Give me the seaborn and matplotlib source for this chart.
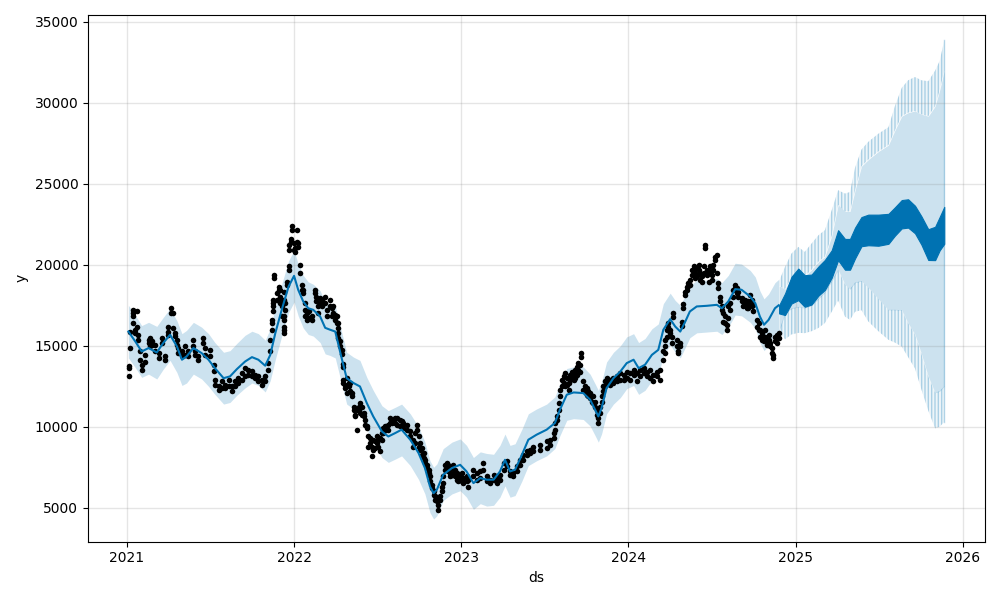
import numpy as np
import pandas as pd
import matplotlib
matplotlib.use("Agg")
import matplotlib.pyplot as plt
import seaborn as sns

BASE = pd.Timestamp("2021-01-01")

# ---------------- observed values (days since 2021-01-01) ----------------
obs_day = [4, 7, 14, 18, 21, 25, 28, 32, 39, 47,
           50, 54, 61, 69, 76, 83, 90, 96, 101, 105,
           109, 112, 120, 127, 134, 145, 149, 156, 167, 171,
           181, 189, 192, 200, 207, 214, 222, 229, 236, 243,
           251, 258, 265, 273, 280, 287, 294, 302, 309, 313,
           316, 320, 321, 327, 331, 334, 338, 342, 345, 349,
           353, 355, 358, 360, 364, 367, 371, 374, 377, 382,
           385, 389, 393, 398, 404, 411, 414, 418, 422, 425,
           433, 436, 444, 447, 451, 455, 458, 462, 466, 469,
           471, 473, 476, 480, 484, 487, 491, 495, 498, 502,
           506, 509, 513, 517, 520, 524, 527, 531, 535, 538,
           542, 546, 549, 553, 557, 560, 564, 571, 575, 578,
           586, 589, 597, 600, 604, 611, 619, 626, 629, 633,
           637, 640, 644, 648, 651, 655, 659, 662, 666, 670,
           673, 677, 680, 684, 688, 691, 695, 699, 702, 706,
           710, 713, 717, 721, 724, 728, 731, 735, 742, 746,
           757, 764, 771, 779, 786, 793, 801, 808, 815, 823,
           830, 837, 844, 852, 859, 866, 874, 881, 888, 903,
           917, 925, 932, 935, 939, 943, 946, 950, 954, 957,
           961, 965, 968, 972, 976, 979, 983, 986, 990, 992,
           997, 1001, 1005, 1008, 1012, 1016, 1019, 1023, 1027, 1030,
           1034, 1037, 1041, 1045, 1048, 1056, 1063, 1070, 1078, 1085,
           1092, 1099, 1107, 1114, 1121, 1129, 1136, 1143, 1150, 1158,
           1165, 1172, 1176, 1180, 1183, 1187, 1190, 1194, 1201, 1205,
           1209, 1212, 1216, 1220, 1223, 1227, 1230, 1234, 1238, 1241,
           1245, 1249, 1252, 1256, 1260, 1263, 1267, 1271, 1274, 1278,
           1281, 1285, 1289, 1292, 1296, 1300, 1303, 1307, 1311, 1314,
           1318, 1325, 1329, 1332, 1336, 1343, 1347, 1351, 1354, 1358,
           1362, 1365, 1369, 1376, 1380, 1383, 1387, 1391, 1394, 1398,
           1402, 1405, 1409, 1411, 1416, 1420, 1424]

obs_a = [13110, 14860, 17220, 15990, 17120, 15680, 14650, 13830, 14440, 15370,
         15470, 15270, 15060, 14550, 15470, 14340, 16190, 17330, 17020, 15780,
         15370, 14860, 14650, 14960, 14650, 15370, 14650, 14340, 15470, 14860,
         14750, 13830, 12900, 12490, 12800, 12590, 12900, 12490, 12800, 13000,
         13310, 13620, 13520, 13420, 13210, 13110, 12900, 13110, 13930, 15370,
         16600, 17630, 19380, 18250, 18660, 18460, 17430, 18350, 17630, 18970,
         19900, 20930, 21440, 22370, 21340, 21030, 22160, 21340, 20000, 18770,
         18460, 17630, 17020, 17120, 16810, 18460, 18040, 17430, 17940, 17840,
         18040, 17220, 17840, 17320, 17430, 16910, 16810, 16400, 15270, 14750,
         13720, 12900, 12590, 13000, 12690, 12690, 12080, 11250, 10740, 11050,
         11250, 11460, 11250, 10840, 10430, 10020, 9400, 9300, 8780, 9200,
         9090, 9400, 9200, 9300, 9610, 9920, 10020, 10120, 10530, 10430,
         10530, 10530, 10430, 10330, 10220, 10120, 9710, 9200, 9610, 10120,
         9400, 8990, 8680, 8370, 7960, 7650, 7340, 6930, 6420, 6010,
         5700, 5590, 5180, 5700, 6310, 6930, 7650, 7760, 7650, 7140,
         7450, 7650, 7340, 7140, 7030, 7030, 7140, 6830, 6930, 6730,
         7340, 7140, 7240, 7760, 6930, 6730, 7040, 6830, 7040, 7760,
         7860, 7240, 7140, 7550, 7960, 8270, 8480, 8580, 8780, 8890,
         9090, 9200, 9610, 10220, 10640, 11460, 12280, 12900, 13110, 13310,
         13000, 12690, 13210, 13410, 13310, 13520, 13720, 13930, 13830, 14550,
         12800, 12490, 12390, 12180, 12080, 11870, 11870, 11560, 11050, 10530,
         11250, 11870, 12490, 12800, 13000, 12900, 13000, 13110, 13310, 13210,
         13410, 13310, 13520, 13310, 13520, 13620, 13410, 13520, 13210, 13410,
         13520, 14650, 15370, 15990, 16400, 15990, 15570, 17020, 15370, 14550,
         15200, 16500, 17320, 18350, 18660, 18870, 19070, 19690, 19900, 19490,
         19790, 20000, 19490, 19280, 19900, 21230, 19690, 19590, 19900, 19380,
         20000, 20510, 20620, 18870, 18040, 17430, 17020, 16810, 16300, 16710,
         17630, 18460, 18760, 18560, 18350, 17940, 17740, 17840, 17630, 17740,
         18150, 17840, 17530, 16600, 16400, 15990, 15780, 15570, 15990, 15370,
         15680, 15160, 14850, 14440, 15570, 15680, 15780]

obs_b = [13760, 15880, 16400, 15780, 16190, 15370, 14140, 13520, 14030, 15160,
         14960, 15060, 14650, 14240, 15160, 14140, 15680, 17020, 16090, 15580,
         15060, 14550, 14340, 14440, 14340, 14960, 14440, 14140, 15160, 14440,
         14340, 13420, 12590, 12280, 12390, 12390, 12490, 12180, 12490, 12690,
         12900, 13110, 13210, 13110, 13000, 12800, 12590, 12800, 13520, 14650,
         15990, 17120, 19180, 17840, 18460, 17630, 16810, 15780, 17220, 18770,
         19700, 21230, 21600, 22160, 20930, 20820, 21440, 21100, 19490, 18460,
         18250, 16810, 16600, 16710, 16600, 18250, 17740, 17020, 17630, 17430,
         17630, 16810, 17430, 16810, 17020, 16600, 16400, 15470, 14960, 14500,
         13900, 12690, 12390, 12080, 12490, 12180, 11900, 11050, 10640, 9810,
         11050, 10840, 10740, 10640, 10120, 9900, 8780, 8990, 8170, 8580,
         8680, 8990, 8780, 8480, 9200, 9610, 9810, 9810, 10220, 10220,
         10220, 10120, 10020, 10020, 9920, 9810, 9400, 8780, 8990, 9810,
         8780, 8580, 8270, 8060, 7760, 7450, 7140, 6620, 6210, 5800,
         5490, 5390, 4870, 5490, 6010, 6520, 7340, 7450, 7240, 6930,
         7030, 7140, 6930, 6730, 6620, 6730, 6620, 6520, 6620, 6310,
         6930, 6730, 6830, 7340, 6620, 6520, 6730, 6520, 6730, 7340,
         7550, 7040, 6930, 7240, 7650, 7960, 8270, 8370, 8480, 8580,
         8680, 8890, 9300, 9810, 10430, 11050, 11870, 12490, 12690, 12490,
         12590, 12280, 12900, 13110, 12900, 13000, 13210, 13520, 13410, 14300,
         12280, 12180, 11970, 11870, 11770, 11560, 11460, 11250, 10740, 10220,
         10840, 11560, 12180, 12490, 12690, 12590, 12690, 12800, 12900, 12900,
         13000, 12900, 13210, 12800, 13110, 13310, 13110, 13000, 12800, 13110,
         12900, 14130, 14550, 15570, 16190, 15780, 15160, 16800, 14960, 14700,
         15000, 16200, 17600, 18150, 18460, 18700, 18760, 19380, 19590, 19180,
         19280, 19690, 19070, 18970, 19490, 21030, 19380, 18970, 19490, 19070,
         19690, 20310, 19490, 18560, 17740, 17200, 16500, 16400, 15990, 17430,
         17220, 18040, 18560, 18250, 18040, 17740, 17430, 17530, 17320, 17320,
         17530, 17430, 17120, 16190, 15990, 15570, 15370, 15270, 15570, 15060,
         15370, 14960, 14550, 14240, 15270, 15160, 15470]

extra_day = [4, 14, 14, 90, 316, 320, 320, 334, 334, 342, 342, 342, 342, 342,
             389, 462, 462, 1176]
extra_val = [13620, 17020, 16810, 15880, 16400, 17840, 17430, 17940, 18040,
             17840, 15990, 16810, 16600, 16190, 17220, 16090, 15780, 14960]

# ---------------- fitted trend over the history ----------------
hist_day = [3, 18, 32, 47, 65, 79, 94, 109, 120, 130,
            145, 163, 178, 192, 211, 225, 240, 258, 273, 287,
            302, 313, 324, 338, 353, 365, 374, 385, 396, 407,
            422, 433, 444, 455, 469, 480, 495, 509, 524, 538,
            557, 571, 586, 600, 619, 637, 651, 662, 670, 677,
            691, 710, 728, 742, 757, 772, 786, 801, 815, 826,
            837, 848, 863, 877, 895, 917, 935, 946, 961, 976,
            997, 1012, 1023, 1030, 1037, 1048, 1063, 1078, 1092, 1107,
            1118, 1132, 1147, 1161, 1172, 1187, 1198, 1209, 1220, 1230,
            1245, 1267, 1289, 1300, 1314, 1329, 1343, 1362, 1373, 1383,
            1392, 1402, 1416, 1424]
hist_yhat = [15880, 15270, 14650, 14860, 14590, 15170, 15680, 14960, 14140, 14340,
             14860, 14550, 14140, 13620, 13000, 13110, 13560, 14030, 14300, 14140,
             13770, 14440, 15780, 17220, 18660, 19320, 18460, 17740, 17320, 17220,
             16810, 16110, 15990, 15880, 14240, 13000, 12700, 12490, 11460, 10640,
             9710, 9400, 9610, 9820, 9200, 8380, 7450, 6310, 5900, 6110,
             7040, 7450, 7650, 7240, 6520, 6830, 6730, 6730, 7240, 7960,
             7240, 7350, 8270, 9200, 9510, 9820, 10230, 11050, 11980, 12120,
             12080, 11670, 11050, 10640, 11150, 12390, 13000, 13410, 13930, 14140,
             13620, 13830, 14440, 14750, 15990, 16650, 16190, 15880, 16500, 17120,
             17430, 17470, 17530, 17320, 17740, 18500, 18460, 18040, 17630, 16810,
             16300, 16600, 17320, 17500]
hist_upper = [17500, 16900, 16250, 16450, 16200, 16750, 17300, 16550, 15750, 15950,
              16450, 16150, 15750, 15200, 14600, 14700, 15150, 15650, 15900, 15750,
              15350, 16050, 17400, 18800, 20250, 20900, 20050, 19350, 18950, 18800,
              18400, 17700, 17600, 17500, 15850, 14600, 14300, 14100, 13050, 12250,
              11300, 11000, 11200, 11400, 10800, 10000, 9050, 7900, 7500, 7700,
              8650, 9050, 9250, 8850, 8100, 8450, 8350, 8300, 8850, 9550,
              8850, 8950, 9850, 10800, 11100, 11400, 11850, 12650, 13600, 13700,
              13700, 13250, 12650, 12250, 12750, 14000, 14600, 15000, 15550, 15750,
              15200, 15450, 16050, 16350, 17600, 18250, 17800, 17500, 18100, 18700,
              19050, 19050, 19150, 18900, 19350, 20100, 20050, 19650, 19250, 18400,
              17900, 18200, 18900, 19100]
hist_lower = [14250, 13650, 13050, 13250, 12950, 13550, 14100, 13350, 12550, 12700,
              13250, 12950, 12500, 12000, 11400, 11500, 11950, 12400, 12700, 12550,
              12150, 12850, 14150, 15600, 17050, 17700, 16850, 16100, 15700, 15600,
              15200, 14500, 14400, 14250, 12650, 11400, 11100, 10900, 9850, 9050,
              8100, 7800, 8000, 8200, 7600, 6750, 5850, 4700, 4300, 4500,
              5450, 5850, 6050, 5650, 4900, 5250, 5100, 5150, 5650, 6350,
              5650, 5750, 6650, 7600, 7900, 8200, 8650, 9450, 10400, 10500,
              10450, 10050, 9450, 9050, 9550, 10800, 11400, 11800, 12350, 12550,
              12000, 12250, 12850, 13150, 14400, 15050, 14600, 14250, 14900, 15500,
              15800, 15850, 15900, 15700, 16150, 16900, 16850, 16450, 16050, 15200,
              14700, 15000, 15700, 15900]

# ---------------- forecast horizon ----------------
fut_day = [1425, 1438, 1452, 1467, 1481, 1496, 1511, 1525, 1540, 1554,
           1569, 1580, 1591, 1605, 1620, 1642, 1664, 1678, 1693, 1707,
           1722, 1736, 1751, 1766, 1776, 1786]
fc_top = [17500, 18230, 19260, 19770, 19360, 19400, 19900, 20300, 20900, 22140,
          21600, 21600, 22300, 22950, 23100, 23100, 23150, 23550, 24000, 24050,
          23650, 23000, 22200, 22350, 22960, 23580]
fc_bot = [17000, 16900, 17610, 17820, 17410, 17550, 18100, 18450, 19200, 20290,
          19700, 19700, 20400, 21150, 21210, 21180, 21300, 21800, 22250, 22300,
          21950, 21250, 20300, 20290, 20900, 21300]
up_outer = [19000, 19880, 20700, 21110, 20800, 21320, 21830, 22140, 23380, 24610,
            24400, 24500, 26000, 27120, 27600, 28100, 28500, 29800, 30930, 31400,
            31600, 31400, 31340, 32000, 32600, 33870]
up_inner = [18700, 18500, 19200, 19600, 19300, 19700, 20200, 20500, 21800, 23700,
            23300, 23300, 24600, 26090, 26500, 27000, 27400, 28300, 29180, 29400,
            29500, 29300, 29180, 29800, 30800, 32000]
low_outer = [15900, 15400, 15700, 15800, 15780, 15900, 16100, 16400, 17100, 17800,
             16800, 16600, 17100, 17200, 16500, 15900, 15370, 15200, 14950, 14300,
             13600, 12300, 11000, 9900, 10000, 10300]
low_inner = [15900, 17000, 17300, 17400, 17330, 17500, 17900, 18300, 19000, 19690,
             18800, 18500, 18900, 19000, 18600, 17900, 17220, 17220, 17200, 16400,
             15700, 14500, 13100, 12100, 12200, 12500]

assert len(obs_day) == len(obs_a) == len(obs_b), (len(obs_day), len(obs_a), len(obs_b))
assert len(hist_day) == len(hist_yhat) == len(hist_upper) == len(hist_lower)
assert len(fut_day) == len(fc_top) == len(fc_bot) == len(up_outer) == len(up_inner) == len(low_outer) == len(low_inner)


def to_dates(days):
    return BASE + pd.to_timedelta(np.asarray(days), unit="D")


BLUE = "#0072B2"
plt.rcParams["hatch.linewidth"] = 1.0

fig, ax = plt.subplots(figsize=(10, 6), dpi=100)

obs_dates = to_dates(obs_day)
dot_kw = dict(color="black", s=16, linewidth=0, marker="o", ax=ax, legend=False, zorder=2)
sns.scatterplot(x=obs_dates, y=obs_a, **dot_kw)
sns.scatterplot(x=obs_dates, y=obs_b, **dot_kw)
sns.scatterplot(x=to_dates(extra_day), y=extra_val, **dot_kw)

hd = to_dates(hist_day)
fd = to_dates(fut_day)

sns.lineplot(x=hd, y=hist_yhat, color=BLUE, linewidth=1.5, ax=ax, zorder=3)

# uncertainty band
ax.fill_between(hd, hist_lower, hist_upper, color=BLUE, alpha=0.2, linewidth=0, zorder=1)
ax.fill_between(fd, low_inner, up_inner, color=BLUE, alpha=0.2, linewidth=0, zorder=1)
streak = dict(facecolor=(0.0, 0.447, 0.698, 0.07), edgecolor=(0.0, 0.447, 0.698, 0.28),
              hatch="|||||", linewidth=0, zorder=1)
ax.fill_between(fd, up_inner, up_outer, **streak)
ax.fill_between(fd, low_outer, low_inner, **streak)
ax.plot([fd[-1], fd[-1]], [low_outer[-1], up_outer[-1]], color=BLUE, alpha=0.25, lw=1, zorder=1)

# forecast line (daily weekly-seasonal oscillation appears as a solid band)
ax.fill_between(fd, fc_bot, fc_top, color=BLUE, linewidth=0.8, edgecolor=BLUE, zorder=3)

ax.grid(True, which="major", color="gray", linestyle="-", linewidth=1, alpha=0.2)
ax.set_xlabel("ds")
ax.set_ylabel("y")
ax.set_xlim(pd.Timestamp("2020-10-08"), pd.Timestamp("2026-02-19"))
ax.set_ylim(2900, 35430)

fig.tight_layout()
fig.savefig("out.png", dpi=100)
